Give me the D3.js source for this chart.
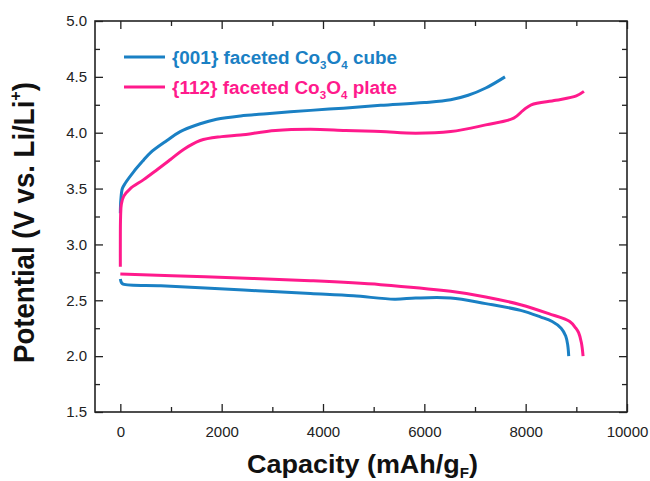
<!DOCTYPE html>
<html><head><meta charset="utf-8">
<script src="https://cdn.jsdelivr.net/npm/d3@7"></script>
<style>body{margin:0;background:#fff}svg{display:block}text{font-family:"Liberation Sans",Arial,sans-serif}</style>
</head><body><svg id="c" width="650" height="481"></svg>
<script>
// ---- data ----
const xTicks = [0, 2000, 4000, 6000, 8000, 10000];
const yTicks = [1.5, 2.0, 2.5, 3.0, 3.5, 4.0, 4.5, 5.0];
const seriesNames = ["{001} faceted Co3O4 cube", "{112} faceted Co3O4 plate"];
// blue: {001} cube
const cubeCharge = [[0,3.28],[10,3.40],[40,3.50],[100,3.55],[262,3.65],[450,3.75],[591,3.82],[920,3.93],[1182,4.01],[1576,4.08],[1900,4.12],[2372,4.15],[2890,4.17],[3754,4.20],[4400,4.22],[5137,4.245],[6000,4.27],[6520,4.295],[6865,4.335],[7212,4.40],[7592,4.50]];
const cubeDischarge = [[0,2.69],[20,2.66],[55,2.645],[800,2.63],[1676,2.61],[2700,2.585],[3754,2.56],[4600,2.54],[5413,2.51],[5829,2.52],[6520,2.52],[7212,2.47],[7900,2.41],[8300,2.35],[8524,2.31],[8700,2.25],[8790,2.18],[8830,2.10],[8850,2.0]];
// pink: {112} plate
const plateCharge = [[0,2.80],[0,3.00],[5,3.25],[20,3.36],[66,3.43],[197,3.50],[460,3.58],[700,3.66],[990,3.76],[1248,3.85],[1576,3.93],[2000,3.965],[2372,3.98],[3062,4.02],[3754,4.03],[4445,4.02],[5137,4.01],[5829,3.995],[6520,4.01],[7212,4.07],[7764,4.13],[7950,4.20],[8110,4.25],[8594,4.29],[9000,4.33],[9150,4.37]];
const plateDischarge = [[0,2.735],[1676,2.71],[3754,2.675],[5137,2.64],[6520,2.58],[7212,2.53],[7900,2.46],[8455,2.38],[8870,2.31],[8990,2.25],[9045,2.21],[9100,2.12],[9133,2.0]];
const colors = ["#1a80c4", "#ff1a8c"];

const svg = d3.select("#c");
const L = 95, R = 627, T = 21, B = 412;
const x = d3.scaleLinear().domain([-500, 10000]).range([L, R]);
const y = d3.scaleLinear().domain([1.5, 5.0]).range([B, T]);
const xMinor = d3.range(0, 10001, 1000).filter(v => v % 2000 !== 0);
const yMinor = d3.range(1.75, 5.0, 0.5);

function styleAxis(g){ g.selectAll(".domain").remove(); g.selectAll("line").attr("stroke","#222").attr("stroke-width",1.3); g.selectAll("text").attr("fill","#222").style("font-size","15px"); }

svg.append("g").attr("transform",`translate(0,${B})`)
  .call(d3.axisBottom(x).tickValues(xTicks).tickSize(-8).tickPadding(14).tickFormat(d3.format("d"))).call(styleAxis);
svg.append("g").attr("transform",`translate(0,${B})`)
  .call(d3.axisBottom(x).tickValues(xMinor).tickSize(-5).tickFormat("")).call(styleAxis);
svg.append("g").attr("transform",`translate(0,${T})`)
  .call(d3.axisTop(x).tickValues(xTicks).tickSize(-8).tickFormat("")).call(styleAxis);
svg.append("g").attr("transform",`translate(0,${T})`)
  .call(d3.axisTop(x).tickValues(xMinor).tickSize(-5).tickFormat("")).call(styleAxis);
svg.append("g").attr("transform",`translate(${L},0)`)
  .call(d3.axisLeft(y).tickValues(yTicks).tickSize(-8).tickPadding(8).tickFormat(d3.format(".1f"))).call(styleAxis);
svg.append("g").attr("transform",`translate(${L},0)`)
  .call(d3.axisLeft(y).tickValues(yMinor).tickSize(-5).tickFormat("")).call(styleAxis);
svg.append("g").attr("transform",`translate(${R},0)`)
  .call(d3.axisRight(y).tickValues(yTicks).tickSize(-8).tickFormat("")).call(styleAxis);
svg.append("g").attr("transform",`translate(${R},0)`)
  .call(d3.axisRight(y).tickValues(yMinor).tickSize(-5).tickFormat("")).call(styleAxis);

svg.append("rect").attr("x",L).attr("y",T).attr("width",R-L).attr("height",B-T)
  .attr("fill","none").attr("stroke","#222").attr("stroke-width",1.6);

const line = d3.line().x(d => x(d[0])).y(d => y(d[1])).curve(d3.curveCatmullRom.alpha(0.5));
[[cubeCharge,0],[cubeDischarge,0],[plateCharge,1],[plateDischarge,1]].forEach(([d,i]) => {
  svg.append("path").datum(d).attr("d",line).attr("fill","none")
    .attr("stroke",colors[i]).attr("stroke-width",3).attr("stroke-linejoin","round");
});

// legend
const legY = [57, 87];
const legParts = [["{001} faceted Co","3","O","4"," cube"],["{112} faceted Co","3","O","4"," plate"]];
legParts.forEach((p,i) => {
  svg.append("line").attr("x1",124).attr("x2",165).attr("y1",legY[i]).attr("y2",legY[i])
    .attr("stroke",colors[i]).attr("stroke-width",3);
  const t = svg.append("text").attr("x",172).attr("y",legY[i]+6.5).attr("fill",colors[i])
    .style("font-size","18px").style("font-weight","bold")
    .attr("textLength",225).attr("lengthAdjust","spacingAndGlyphs");
  t.append("tspan").text(p[0]);
  t.append("tspan").text(p[1]).style("font-size","11px").attr("dy",5);
  t.append("tspan").text(p[2]).attr("dy",-5);
  t.append("tspan").text(p[3]).style("font-size","11px").attr("dy",5);
  t.append("tspan").text(p[4]).attr("dy",-5);
});

// axis titles
const xt = svg.append("text").attr("x",247).attr("y",473)
  .style("font-size","25px").style("font-weight","bold").attr("fill","#111")
  .attr("textLength",231).attr("lengthAdjust","spacingAndGlyphs");
xt.append("tspan").text("Capacity (mAh/g");
xt.append("tspan").text("F").style("font-size","14px").attr("dy",5);
xt.append("tspan").text(")").attr("dy",-5);

const yt = svg.append("text").attr("transform",`translate(34,363) rotate(-90)`)
  .style("font-size","29px").style("font-weight","bold").attr("fill","#111")
  .attr("textLength",281).attr("lengthAdjust","spacingAndGlyphs");
yt.append("tspan").text("Potential (V vs. Li/Li");
yt.append("tspan").text("+").style("font-size","17px").attr("dy",-13);
yt.append("tspan").text(")").attr("dy",13);
</script></body></html>
